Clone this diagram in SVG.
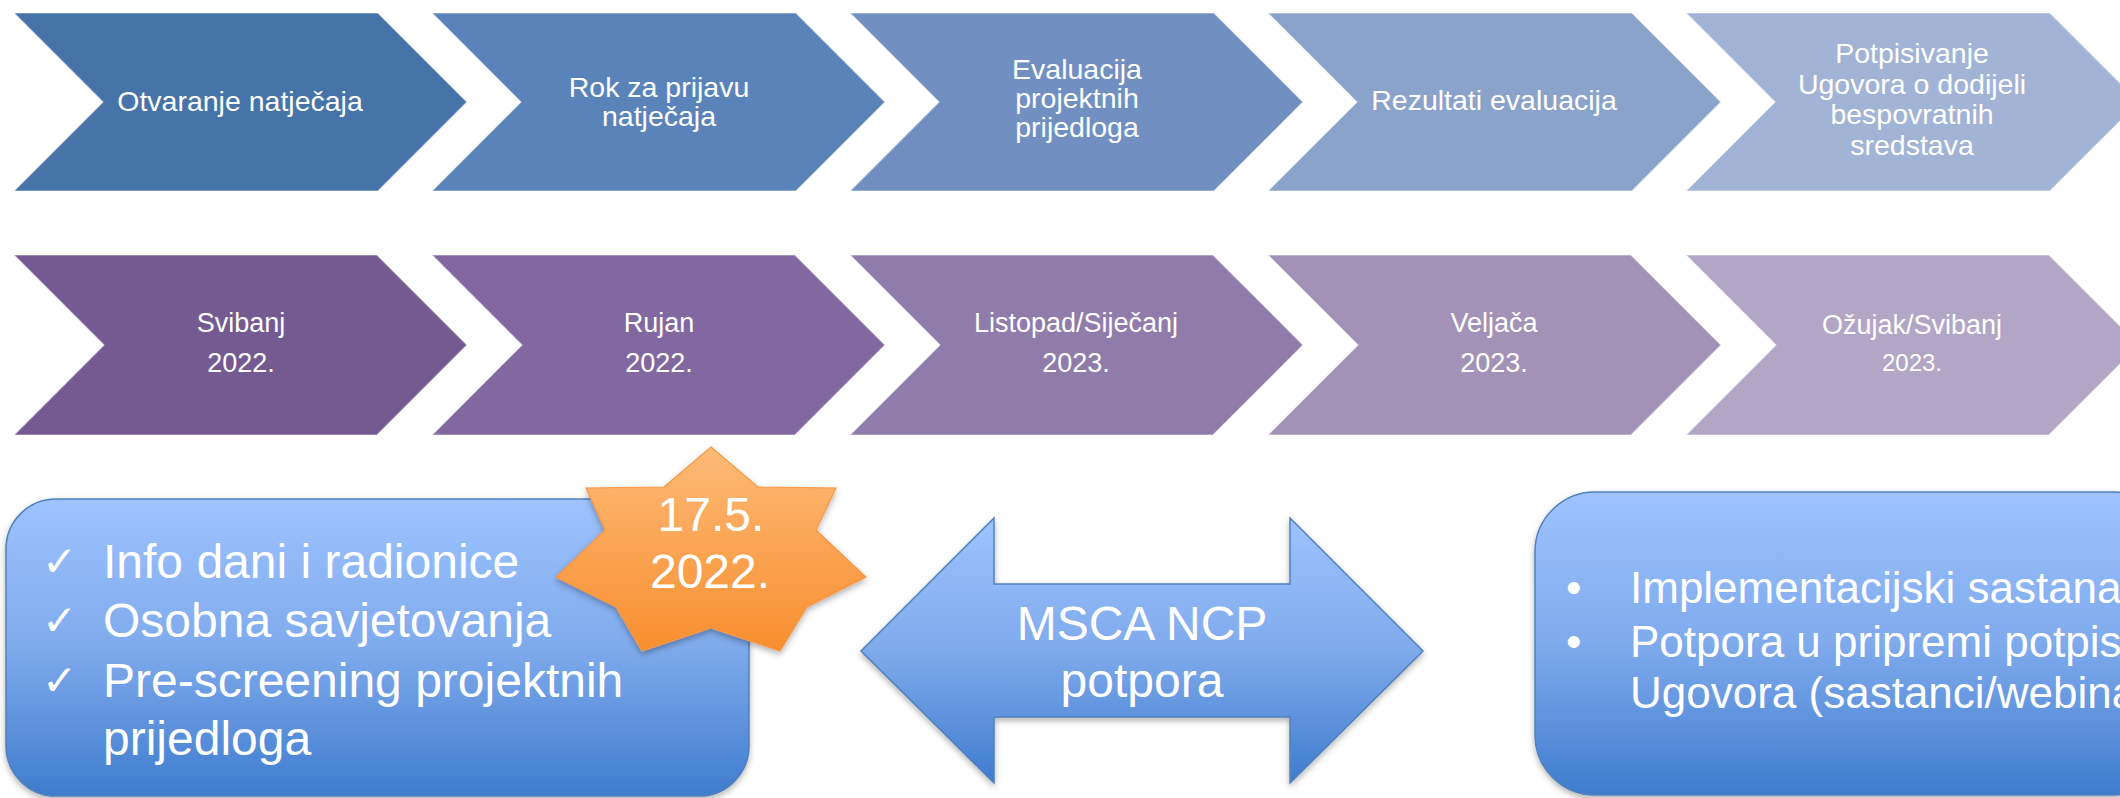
<svg xmlns="http://www.w3.org/2000/svg" width="2120" height="798" viewBox="0 0 2120 798">
<defs>
<linearGradient id="blueGrad" x1="0" y1="0" x2="0" y2="1">
<stop offset="0" stop-color="#9EC3FF"/>
<stop offset="0.5" stop-color="#7FAAEC"/>
<stop offset="1" stop-color="#3F7CCE"/>
</linearGradient>
<linearGradient id="orangeGrad" x1="0" y1="0" x2="0" y2="1">
<stop offset="0" stop-color="#FDBA78"/>
<stop offset="1" stop-color="#F88E2E"/>
</linearGradient>
<filter id="shadow" x="-10%" y="-10%" width="120%" height="130%">
<feDropShadow dx="0" dy="3" stdDeviation="3" flood-color="#000" flood-opacity="0.3"/>
</filter>
</defs>
<style>
text{font-family:"Liberation Sans",Arial,sans-serif;fill:#ffffff;}
.chev{stroke:#ffffff;stroke-opacity:0.55;stroke-width:1.2;}
.t1{font-size:28.5px;text-anchor:middle;}
.t2{font-size:27px;text-anchor:middle;}
.big{font-size:48px;}
.mid{font-size:48px;text-anchor:middle;}
.rt{font-size:44px;}
.chk{font-family:"DejaVu Sans",sans-serif;font-size:42px;}
.blue{fill:url(#blueGrad);stroke:#4F81BD;stroke-width:1.5;filter:url(#shadow);}
</style>
<rect width="2120" height="798" fill="#ffffff"/>

<g id="phase1"><path class="chev" fill="#4673A8" d="M14,13 L378,13 L467,102 L378,191 L14,191 L103,102 Z"/><text class="t1" x="240" y="111">Otvaranje natječaja</text></g>
<g id="phase2"><path class="chev" fill="#5A83BA" d="M432,13 L796,13 L885,102 L796,191 L432,191 L521,102 Z"/><text class="t1" x="659" y="97">Rok za prijavu</text><text class="t1" x="659" y="126">natječaja</text></g>
<g id="phase3"><path class="chev" fill="#7190C1" d="M850,13 L1214,13 L1303,102 L1214,191 L850,191 L939,102 Z"/><text class="t1" x="1077" y="79">Evaluacija</text><text class="t1" x="1077" y="108">projektnih</text><text class="t1" x="1077" y="137">prijedloga</text></g>
<g id="phase4"><path class="chev" fill="#8AA3CB" d="M1268,13 L1632,13 L1721,102 L1632,191 L1268,191 L1357,102 Z"/><text class="t1" x="1494" y="110">Rezultati evaluacija</text></g>
<g id="phase5"><path class="chev" fill="#A2B4D5" d="M1686,13 L2050,13 L2139,102 L2050,191 L1686,191 L1775,102 Z"/><text class="t1" x="1912" y="63">Potpisivanje</text><text class="t1" x="1912" y="94">Ugovora o dodijeli</text><text class="t1" x="1912" y="124">bespovratnih</text><text class="t1" x="1912" y="155">sredstava</text></g>

<g id="date1"><path class="chev" fill="#735A91" d="M14,255 L377,255 L467,345 L377,435 L14,435 L104,345 Z"/><text class="t2" x="241" y="332">Svibanj</text><text class="t2" x="241" y="372">2022.</text></g>
<g id="date2"><path class="chev" fill="#8268A0" d="M432,255 L795,255 L885,345 L795,435 L432,435 L522,345 Z"/><text class="t2" x="659" y="332">Rujan</text><text class="t2" x="659" y="372">2022.</text></g>
<g id="date3"><path class="chev" fill="#907CAB" d="M850,255 L1213,255 L1303,345 L1213,435 L850,435 L940,345 Z"/><text class="t2" x="1076" y="332">Listopad/Siječanj</text><text class="t2" x="1076" y="372">2023.</text></g>
<g id="date4"><path class="chev" fill="#A392B7" d="M1268,255 L1631,255 L1721,345 L1631,435 L1268,435 L1358,345 Z"/><text class="t2" x="1494" y="332">Veljača</text><text class="t2" x="1494" y="372">2023.</text></g>
<g id="date5"><path class="chev" fill="#B2A6C6" d="M1686,255 L2049,255 L2139,345 L2049,435 L1686,435 L1776,345 Z"/><text class="t2" x="1912" y="334">Ožujak/Svibanj</text><text class="t2" x="1912" y="371" style="font-size:24px">2023.</text></g>

<g id="left-box">
<rect class="blue" x="6" y="499" width="743" height="297" rx="50" ry="50"/>
<text class="chk" x="42" y="576">✓</text><text class="big" x="103" y="578">Info dani i radionice</text>
<text class="chk" x="42" y="635">✓</text><text class="big" x="103" y="637">Osobna savjetovanja</text>
<text class="chk" x="42" y="695">✓</text><text class="big" x="103" y="697">Pre-screening projektnih</text>
<text class="big" x="103" y="755">prijedloga</text>
</g>

<g id="star">
<path fill="url(#orangeGrad)" stroke="#F79646" stroke-width="1.2" filter="url(#shadow)" d="M711,447 L758,487 L836,488 L816,530 L866,577 L807,607 L780,651 L711,628 L642,651 L616,607 L556,577 L605,530 L586,488 L664,487 Z"/>
<text class="mid" x="711" y="531">17.5.</text>
<text class="mid" x="710" y="588">2022.</text>
</g>

<g id="connectors">
<g id="double-arrow">
<path class="blue" d="M861,651 L994,518 L994,584 L1290,584 L1290,518 L1423,651 L1290,783 L1290,717 L994,717 L994,783 Z"/>
<text class="mid" x="1142" y="640">MSCA NCP</text>
<text class="mid" x="1142" y="697">potpora</text>
</g>
</g>

<g id="right-box">
<rect class="blue" x="1535" y="492" width="640" height="303" rx="60" ry="60"/>
<text class="rt" x="1566" y="603">•</text><text class="rt" x="1630" y="603">Implementacijski sastanak</text>
<text class="rt" x="1566" y="657">•</text><text class="rt" x="1630" y="657">Potpora u pripremi potpisi</text>
<text class="rt" x="1630" y="708">Ugovora (sastanci/webinar</text>
</g>
</svg>
